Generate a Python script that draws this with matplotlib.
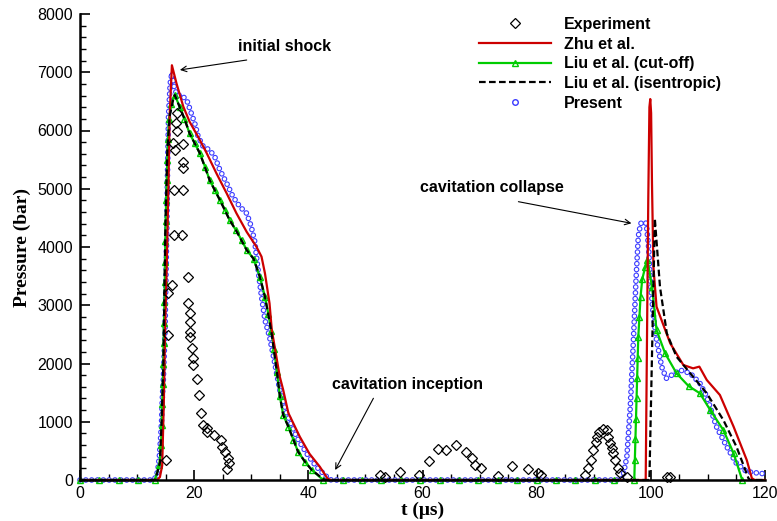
import matplotlib
matplotlib.use('Agg')
import matplotlib.pyplot as plt
from matplotlib.lines import Line2D
from matplotlib.ticker import MultipleLocator

plt.rcParams['lines.scale_dashes'] = False
plt.rcParams['font.family'] = ['Liberation Sans', 'DejaVu Sans']

# experiment (open diamonds), t in microseconds, p in bar
t_exp = [15.1, 15.5, 15.5, 16.2, 16.35, 16.5, 16.5, 16.6, 16.8, 17.05,
         17.05, 17.8, 18.0, 18.1, 18.1, 18.1, 18.95, 18.95, 19.25, 19.25,
         19.25, 19.25, 19.65, 19.85, 19.85, 20.45, 20.85, 21.2, 21.6, 22.2,
         22.2, 23.5, 24.65, 24.8, 25.4, 25.8, 26.0, 26.15, 52.55, 53.4,
         56.05, 59.3, 61.1, 62.8, 64.2, 65.8, 67.7, 68.6, 69.2, 70.25,
         73.3, 75.6, 78.4, 80.3, 80.7, 88.5, 89.05, 89.6, 89.9, 90.4,
         90.6, 91.0, 91.6, 92.3, 92.55, 92.85, 93.15, 93.4, 93.7, 94.3,
         94.6, 95.8, 102.8, 103.4]
p_exp = [343, 3216, 2489, 3348, 5780, 4979, 4206, 5665, 6134, 6295,
         5991, 4206, 5763, 5465, 5351, 4979, 3490, 3044, 2872, 2718,
         2546, 2460, 2260, 2089, 1974, 1728, 1459, 1145, 944, 887,
         830, 773, 687, 572, 486, 184, 372, 286, 86, 46,
         143, 86, 326, 527, 515, 601, 486, 372, 258, 200,
         74, 246, 184, 126, 86, 86, 200, 343, 515, 658,
         744, 830, 870, 858, 744, 630, 544, 458, 343, 200,
         115, 57, 57, 57]

# Zhu et al.
t_zhu = [0, 13.5, 14.0, 14.4, 14.7, 14.9, 15.2, 15.5, 15.7, 16.1,
         16.9, 18.1, 19.2, 20.7, 22.2, 23.9, 25.7, 27.4, 29.2, 30.9,
         31.8, 32.4, 33.2, 33.6, 34.4, 35.0, 35.6, 36.5, 38.5, 40.2,
         42.0, 43.4, 44.0, 99.1, 99.55, 99.75, 99.9, 100.05, 100.2, 100.45,
         101.0, 103.4, 105.7, 107.4, 108.5, 109.8, 112.1, 114.5, 116.8, 117.7,
         118.2, 120]
p_zhu = [0, 0, 50, 250, 1400, 2575, 3720, 5090, 6240, 7120,
         6810, 6410, 6150, 5890, 5610, 5265, 4920, 4580, 4260, 4006,
         3834, 3548, 3033, 2575, 2117, 1773, 1545, 1150, 744, 450,
         229, 20, 0, 0, 4800, 6400, 6540, 6300, 5100, 3660,
         2975, 2346, 1974, 1917, 1946, 1717, 1459, 915, 343, 30,
         0, 0]

# Liu et al. (cut-off)
t_cut = [0, 3.4, 6.8, 10.2, 13.1, 13.9, 14.2, 14.3, 14.4, 14.5,
         14.6, 14.65, 14.7, 14.8, 14.85, 14.9, 14.95, 15.0, 15.1, 15.2,
         15.3, 15.4, 15.6, 16.0, 16.6, 17.5, 18.3, 19.2, 20.1, 21.0,
         21.9, 22.7, 23.6, 24.5, 25.4, 26.2, 27.3, 28.3, 29.2, 30.4,
         31.5, 32.4, 33.0, 33.5, 34.0, 34.5, 35.0, 35.6, 36.5, 37.4,
         38.2, 39.4, 40.6, 42.6, 46.0, 49.4, 52.8, 56.2, 59.6, 63.0,
         66.4, 69.8, 73.2, 76.6, 80.0, 83.4, 86.8, 90.2, 93.6, 97.1,
         97.2, 97.3, 97.4, 97.5, 97.6, 97.7, 97.8, 98.0, 98.2, 98.5,
         99.0, 99.4, 100.2, 101.0, 102.5, 104.5, 106.6, 108.6, 110.4, 112.7,
         114.5, 116.0]
p_cut = [0, 0, 0, 0, 0, 250, 600, 950, 1300, 1650,
         2000, 2350, 2700, 3050, 3400, 3750, 4100, 4450, 4800, 5150,
         5500, 5850, 6200, 6450, 6610, 6400, 6200, 5950, 5780, 5608,
         5380, 5150, 4980, 4807, 4640, 4464, 4292, 4120, 3948, 3800,
         3490, 3147, 2850, 2560, 2250, 1850, 1450, 1116, 916, 687,
         486, 315, 172, 0, 0, 0, 0, 0, 0, 0,
         0, 0, 0, 0, 0, 0, 0, 0, 0, 0,
         350, 700, 1050, 1400, 1750, 2100, 2450, 2800, 3150, 3450,
         3650, 3780, 3320, 2575, 2175, 1832, 1614, 1488, 1202, 858,
         458, 0]

# Liu et al. (isentropic)
t_isen = [0, 13.2, 14.0, 14.3, 14.6, 14.95, 15.3, 15.7, 16.3, 16.6,
          18.3, 19.2, 21.0, 22.7, 24.5, 26.2, 27.3, 29.2, 30.4, 31.5,
          32.4, 33.5, 34.5, 35.0, 35.6, 36.5, 37.4, 38.2, 39.4, 40.6,
          42.6, 43.0, 99.75, 100.7, 101.6, 102.8, 104.5, 107.4, 109.8, 112.7,
          115.0, 117.1, 117.4, 120]
p_isen = [0, 0, 300, 1000, 2000, 4290, 5660, 6240, 6520, 6610,
          6200, 5950, 5608, 5150, 4807, 4464, 4292, 3948, 3800, 3490,
          3147, 2560, 1850, 1450, 1116, 916, 687, 486, 315, 172,
          17, 0, 0, 4490, 3319, 2518, 2117, 1773, 1488, 1030,
          572, 30, 0, 0]

# Present
t_pres = [0, 12.8, 13.4, 13.7, 13.9, 14.1, 14.3, 14.4, 14.6, 14.9,
          15.05, 15.2, 15.3, 15.5, 15.8, 16.1, 16.5, 17.0, 17.7, 18.7,
          19.2, 20.1, 20.7, 21.6, 22.7, 23.6, 24.5, 25.7, 26.8, 28.0,
          29.2, 30.0, 30.6, 31.2, 31.8, 32.4, 33.2, 33.9, 35.0, 36.2,
          37.9, 39.7, 41.4, 43.2, 44.0, 94.8, 95.2, 95.8, 96.4, 96.9,
          97.4, 97.8, 98.2, 98.6, 99.2, 99.6, 99.9, 100.4, 101.0, 101.9,
          102.7, 103.7, 105.1, 106.9, 108.6, 109.8, 111.5, 113.3, 115.0, 116.8,
          119.1, 119.6]
p_pres = [0, 0, 60, 229, 400, 687, 1030, 1373, 1717, 2575,
          3433, 4292, 5093, 6237, 6810, 6990, 6750, 6600, 6610, 6524,
          6381, 6123, 5894, 5722, 5665, 5551, 5322, 5093, 4864, 4692,
          4578, 4350, 4100, 3605, 3147, 2747, 2460, 2117, 1545, 1145,
          744, 458, 229, 57, 0, 0, 100, 400, 1259, 2289,
          3433, 4177, 4400, 4435, 4406, 4006, 3433, 2862, 2403, 1946,
          1745, 1803, 1888, 1832, 1659, 1431, 915, 572, 286, 143,
          115, 110]

x_ticks = [0, 20, 40, 60, 80, 100, 120]
y_ticks = [0, 1000, 2000, 3000, 4000, 5000, 6000, 7000, 8000]

red = '#cc0000'
green = '#00cc00'
blue = '#3a3aff'

fig = plt.figure(figsize=(7.77, 5.21), dpi=100)
ax = fig.add_axes([80 / 777, 1 - 480 / 521, 685 / 777, 466 / 521])

# Present: open circles spaced evenly along the curve (ring = blue dot + white dot)
ring = (0, (0.001, 4.2))
ax.plot(t_pres, p_pres, color=blue, lw=4.1, ls=ring, dash_capstyle='round',
        zorder=1.6, clip_on=False)
ax.plot(t_pres, p_pres, color='white', lw=2.5, ls=ring, dash_capstyle='round',
        zorder=1.7, clip_on=False)

ax.plot(t_zhu, p_zhu, color=red, lw=1.6, zorder=2.2, clip_on=False)
ax.plot(t_cut, p_cut, color=green, lw=1.6, marker='^', ms=5, mfc='none',
        mec=green, mew=1, zorder=2.1, clip_on=False)
ax.plot(t_isen, p_isen, color='black', lw=1.6, ls=(0, (4.8, 2.4)),
        zorder=2.3, clip_on=False)
ax.plot(t_exp, p_exp, ls='none', marker='D', ms=4.6, mfc='none',
        mec='black', mew=0.9, zorder=3, clip_on=False)

ax.set_xlim(0, 120)
ax.set_ylim(0, 8000)
ax.set_xticks(x_ticks)
ax.set_yticks(y_ticks)
ax.xaxis.set_minor_locator(MultipleLocator(5))
ax.yaxis.set_minor_locator(MultipleLocator(200))
ax.tick_params(which='major', direction='in', length=7, width=1.2,
               labelsize=11.5, pad=5)
ax.tick_params(which='minor', direction='in', length=4, width=1.0)
ax.tick_params(axis='x', which='major', pad=4)
for s in ['top', 'right']:
    ax.spines[s].set_visible(False)
for s in ['left', 'bottom']:
    ax.spines[s].set_linewidth(1.8)

ax.set_xlabel('t (\u03bcs)', family='Liberation Serif', fontweight='bold',
              fontsize=14)
ax.set_ylabel('Pressure (bar)', family='Liberation Serif', fontweight='bold',
              fontsize=14)
ax.xaxis.set_label_coords(343 / 685, -0.047)
ax.yaxis.set_label_coords(-0.072, 0.5)

# annotations
arrow = dict(arrowstyle='->', color='black', lw=0.8, shrinkA=0, shrinkB=0)
ax.text(27.7, 7450, 'initial shock', fontsize=11.5, fontweight='bold',
        va='center', ha='left')
ax.annotate('', xy=(17.5, 7040), xytext=(29.2, 7210), arrowprops=arrow)
ax.text(59.6, 5030, 'cavitation collapse', fontsize=11.5, fontweight='bold',
        va='center', ha='left')
ax.annotate('', xy=(96.6, 4407), xytext=(76.8, 4778), arrowprops=arrow)
ax.text(44.1, 1648, 'cavitation inception', fontsize=11.5, fontweight='bold',
        va='center', ha='left')
ax.annotate('', xy=(44.7, 172), xytext=(51.4, 1403), arrowprops=arrow)

handles = [
    Line2D([], [], ls='none', marker='D', ms=4.6, mfc='none', mec='black', mew=0.9),
    Line2D([], [], color=red, lw=1.6),
    Line2D([], [], color=green, lw=1.6, marker='^', ms=5, mfc='none', mec=green, mew=1),
    Line2D([], [], color='black', lw=1.6, ls=(0, (4.8, 2.4))),
    Line2D([], [], ls='none', marker='o', ms=4.0, mfc='none', mec=blue, mew=1.0),
]
labels = ['Experiment', 'Zhu et al.', 'Liu et al. (cut-off)',
          'Liu et al. (isentropic)', 'Present']
fig.legend(handles, labels, loc='upper left',
           bbox_to_anchor=(479 / 777, 1 - 17 / 521), frameon=False,
           borderpad=0, borderaxespad=0, handlelength=4.5, handletextpad=0.8,
           labelspacing=0.29, numpoints=1,
           prop={'family': 'Liberation Sans', 'weight': 'bold', 'size': 11.5})

fig.savefig('out.png', dpi=100)
